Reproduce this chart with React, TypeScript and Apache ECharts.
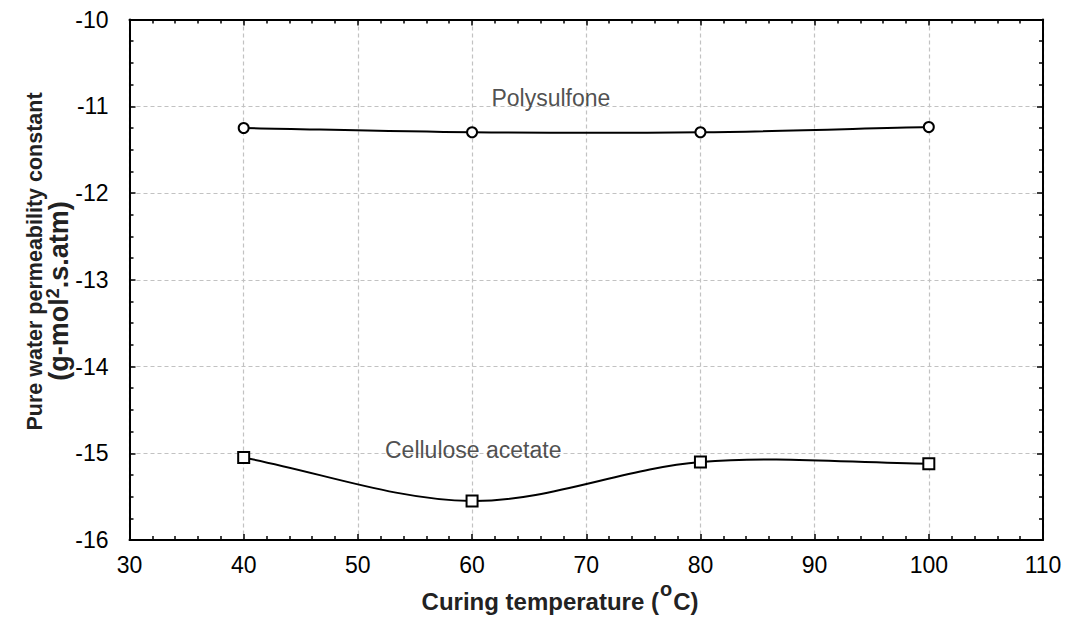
import React, { useEffect, useRef } from 'react';
import * as echarts from 'echarts';

const temperatures = [40, 60, 80, 100];
const polysulfone = [-11.25, -11.3, -11.3, -11.24];
const celluloseAcetate = [-15.05, -15.55, -15.1, -15.12];
const seriesNames = ['Polysulfone', 'Cellulose acetate'];
const labelAnchors: number[][] = [
  [66.9, -10.905],
  [60.1, -14.963],
];

const FONT = '"Liberation Sans", Arial, Helvetica, sans-serif';

// Catmull-Rom style tangents (in data units) for a smooth curve through the points
function tangents(xs: number[], ys: number[]) {
  const n = xs.length;
  return xs.map((_, i) => {
    if (i === 0) return (ys[1] - ys[0]) / (xs[1] - xs[0]);
    if (i === n - 1) return (ys[n - 1] - ys[n - 2]) / (xs[n - 1] - xs[n - 2]);
    return (ys[i + 1] - ys[i - 1]) / (xs[i + 1] - xs[i - 1]);
  });
}

function curveSeries(name: string, ys: number[]) {
  const m = tangents(temperatures, ys);
  return {
    name,
    type: 'custom',
    data: temperatures.map((t, i) => [t, ys[i]]),
    encode: { x: 0, y: 1 },
    z: 4,
    silent: true,
    renderItem: (params: any, api: any) => {
      const i = params.dataIndex;
      if (i >= temperatures.length - 1) return null;
      const x0 = temperatures[i];
      const x1 = temperatures[i + 1];
      const h = x1 - x0;
      const p0 = api.coord([x0, ys[i]]);
      const p1 = api.coord([x1, ys[i + 1]]);
      const c0 = api.coord([x0 + h / 3, ys[i] + (m[i] * h) / 3]);
      const c1 = api.coord([x1 - h / 3, ys[i + 1] - (m[i + 1] * h) / 3]);
      return {
        type: 'bezierCurve',
        shape: {
          x1: p0[0], y1: p0[1], x2: p1[0], y2: p1[1],
          cpx1: c0[0], cpy1: c0[1], cpx2: c1[0], cpy2: c1[1],
        },
        style: { stroke: '#000', lineWidth: 2, fill: null },
      };
    },
  };
}

function markerSeries(name: string, ys: number[], symbol: string, size: number) {
  return {
    name: name + ' markers',
    type: 'scatter',
    data: temperatures.map((t, i) => [t, ys[i]]),
    symbol,
    symbolSize: size,
    itemStyle: { color: '#fff', borderColor: '#000', borderWidth: 2, opacity: 1 },
    z: 6,
  };
}

export default function App() {
  const ref = useRef<HTMLDivElement>(null);
  useEffect(() => {
    const chart = echarts.init(ref.current!, null, { renderer: 'svg' });
    const gridLine = { show: true, lineStyle: { color: '#c2c2c2', type: [4, 3], width: 1.2 } };
    const axisLine = { show: true, onZero: false, lineStyle: { color: '#000', width: 2 } };
    const tick = { show: true, inside: true, length: 6, lineStyle: { color: '#000', width: 1.5 } };
    const minor = (n: number) => ({ show: true, splitNumber: n, length: 4, lineStyle: { color: '#000', width: 1.5 } });
    const label = { fontSize: 23, color: '#000', fontFamily: FONT };
    const xBase = { type: 'value', min: 30, max: 110, interval: 10 };
    const yBase = { type: 'value', min: -16, max: -10, interval: 1 };

    chart.setOption({
      animation: false,
      backgroundColor: '#fff',
      grid: { left: 129.5, right: 23, top: 19.5, bottom: 78, containLabel: false },
      xAxis: [
        {
          ...xBase,
          position: 'bottom',
          axisLine,
          axisTick: tick,
          minorTick: minor(5),
          axisLabel: { ...label, margin: 13 },
          splitLine: gridLine,
        },
        {
          ...xBase,
          position: 'top',
          axisLine,
          axisTick: tick,
          minorTick: minor(5),
          axisLabel: { show: false },
          splitLine: { show: false },
        },
      ],
      yAxis: [
        {
          ...yBase,
          position: 'left',
          axisLine,
          axisTick: tick,
          minorTick: minor(4),
          axisLabel: { ...label, margin: 21 },
          splitLine: gridLine,
        },
        {
          ...yBase,
          position: 'right',
          axisLine,
          axisTick: tick,
          minorTick: minor(4),
          axisLabel: { show: false },
          splitLine: { show: false },
        },
      ],
      series: [
        curveSeries(seriesNames[0], polysulfone),
        curveSeries(seriesNames[1], celluloseAcetate),
        markerSeries(seriesNames[0], polysulfone, 'circle', 10),
        markerSeries(seriesNames[1], celluloseAcetate, 'rect', 11),
        {
          type: 'scatter',
          silent: true,
          symbolSize: 0,
          data: seriesNames.map((n, i) => ({ name: n, value: labelAnchors[i] })),
          label: {
            show: true,
            position: 'inside',
            formatter: '{b}',
            fontSize: 23,
            color: '#222',
            fontFamily: FONT,
          },
          z: 7,
        },
      ],
      graphic: [
        {
          type: 'text',
          x: 560,
          y: 596,
          style: {
            text: '{b|Curing temperature (}{s|o}{b|C)}',
            align: 'center',
            verticalAlign: 'middle',
            rich: {
              b: { fontSize: 24, fontWeight: 'bold', fontFamily: FONT, fill: '#222', verticalAlign: 'bottom' },
              s: {
                fontSize: 20, fontWeight: 'bold', fontFamily: FONT, fill: '#222',
                verticalAlign: 'bottom', padding: [0, 1, 14, 1],
              },
            },
          },
        },
        {
          type: 'text',
          x: 35,
          y: 261.5,
          rotation: Math.PI / 2,
          style: {
            text: 'Pure water permeability constant',
            align: 'center',
            verticalAlign: 'middle',
            fontSize: 21.5,
            fontWeight: 'bold',
            fontFamily: FONT,
            fill: '#222',
          },
        },
        {
          type: 'text',
          x: 58,
          y: 291,
          rotation: Math.PI / 2,
          style: {
            text: '{b|(g-mol}{s|2}{b|.s.atm)}',
            align: 'center',
            verticalAlign: 'middle',
            rich: {
              b: { fontSize: 27, fontWeight: 'bold', fontFamily: FONT, fill: '#222', verticalAlign: 'bottom' },
              s: {
                fontSize: 18, fontWeight: 'bold', fontFamily: FONT, fill: '#222',
                verticalAlign: 'bottom', padding: [0, 0, 11, 0],
              },
            },
          },
        },
      ],
    });
    return () => chart.dispose();
  }, []);
  return (
    <div
      ref={ref}
      style={{ position: 'absolute', left: 0, top: 0, width: 1066, height: 618 }}
    />
  );
}
